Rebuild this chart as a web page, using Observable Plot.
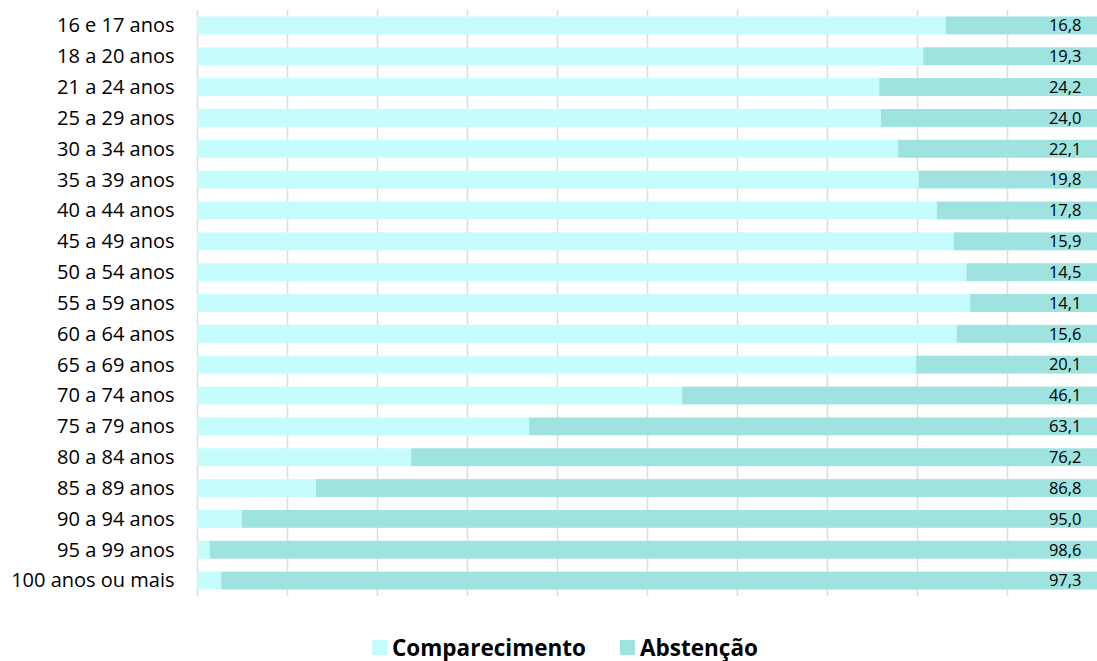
<!DOCTYPE html>
<html>
<head>
<meta charset="utf-8">
<script src="https://cdn.jsdelivr.net/npm/d3@7"></script>
<script src="https://cdn.jsdelivr.net/npm/@observablehq/plot@0.6"></script>
<style>
  body { margin: 0; background: #fff; font-family: "Open Sans", "Noto Sans", sans-serif; }
  #chart { position: relative; width: 1097px; height: 661px; }
  #legend { position: absolute; left: 372px; top: 632px; display: flex; gap: 34px; font-weight: 700; font-size: 22.5px; color: #000; }
  #legend span { display: inline-flex; align-items: center; }
  #legend i { display: inline-block; width: 15px; height: 15px; margin-right: 5px; }
</style>
</head>
<body>
<div id="chart"></div>
<script>
// Faixas etárias
const faixas = [
  "16 e 17 anos", "18 a 20 anos", "21 a 24 anos", "25 a 29 anos", "30 a 34 anos",
  "35 a 39 anos", "40 a 44 anos", "45 a 49 anos", "50 a 54 anos", "55 a 59 anos",
  "60 a 64 anos", "65 a 69 anos", "70 a 74 anos", "75 a 79 anos", "80 a 84 anos",
  "85 a 89 anos", "90 a 94 anos", "95 a 99 anos", "100 anos ou mais"
];
// Percentual de comparecimento (%)
const comparecimento = [83.2, 80.7, 75.8, 76.0, 77.9, 80.2, 82.2, 84.1, 85.5, 85.9, 84.4, 79.9, 53.9, 36.9, 23.8, 13.2, 5.0, 1.4, 2.7];
// Percentual de abstenção (%)
const abstencao = [16.8, 19.3, 24.2, 24.0, 22.1, 19.8, 17.8, 15.9, 14.5, 14.1, 15.6, 20.1, 46.1, 63.1, 76.2, 86.8, 95.0, 98.6, 97.3];
const series = ["Comparecimento", "Abstenção"];
const cores = ["#c6fcfc", "#9ee3e0"];
const gradeX = [0, 10, 20, 30, 40, 50, 60, 70, 80, 90];

const dados = faixas.flatMap((f, i) => [
  {faixa: f, serie: series[0], valor: comparecimento[i]},
  {faixa: f, serie: series[1], valor: abstencao[i]}
]);
const rotulos = faixas.map((f, i) => ({faixa: f, valor: abstencao[i]}));

const fmt = v => v.toFixed(1).replace(".", ",");

const plot = Plot.plot({
  width: 1097,
  height: 610,
  marginLeft: 197,
  marginRight: 0,
  marginTop: 10,
  marginBottom: 14,
  style: {fontFamily: "'Open Sans', 'Noto Sans', sans-serif", background: "#fff", fontSize: "20px", color: "#000"},
  x: {domain: [0, 100], axis: null},
  y: {domain: faixas, paddingInner: 0.42, paddingOuter: 0.21, round: false, label: null, axis: null},
  color: {domain: series, range: cores},
  marks: [
    Plot.ruleX(gradeX, {stroke: "#dcdce3", strokeWidth: 1.5}),
    Plot.barX(dados, Plot.stackX({x: "valor", y: "faixa", fill: "serie", order: series})),
    Plot.text(rotulos, {x: 100, y: "faixa", text: d => fmt(d.valor), textAnchor: "end", dx: -16, fontSize: 16.5, fill: "#000"}),
    Plot.axisY({tickSize: 0, tickPadding: 23, fontSize: 20, fill: "#000", label: null})
  ]
});
document.getElementById("chart").appendChild(plot);

const legend = document.createElement("div");
legend.id = "legend";
series.forEach((s, i) => {
  const item = document.createElement("span");
  const sw = document.createElement("i");
  sw.style.background = cores[i];
  item.appendChild(sw);
  item.appendChild(document.createTextNode(s));
  legend.appendChild(item);
});
document.getElementById("chart").appendChild(legend);
</script>
</body>
</html>
